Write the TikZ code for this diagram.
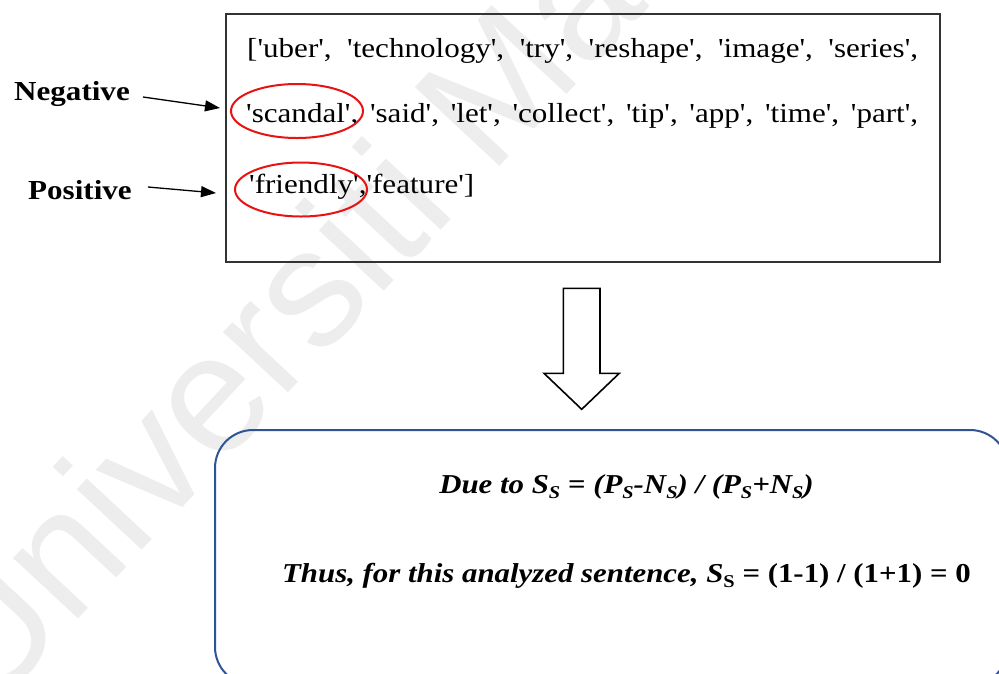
\documentclass[tikz,border=0pt]{standalone}
\usepackage{fontspec}
\newfontfamily\tnr{Liberation Serif}[FakeStretch=1.13]
\newfontfamily\wmfont{Liberation Sans}
\usetikzlibrary{arrows.meta,shapes.geometric}
\definecolor{frameblue}{RGB}{47,84,150}
\definecolor{markred}{RGB}{232,18,18}
\definecolor{wmgray}{RGB}{237,237,237}
\newcommand{\lows}[1]{\raisebox{-0.2em}{\fontsize{18}{18}\selectfont #1}}
\newcommand{\listsize}{\fontsize{27.5}{33}\selectfont}
\newcommand{\formsize}{\fontsize{27.3}{33}\selectfont}

\begin{document}
\begin{tikzpicture}[x=1pt,y=-1pt,font=\tnr,
  listrow/.style={anchor=base west,inner sep=0pt,font=\tnr\listsize},
  sidelabel/.style={anchor=base west,inner sep=0pt,font=\tnr\listsize\bfseries},
  formula/.style={anchor=base,inner sep=0pt,font=\tnr\formsize},
  pointer/.style={-{Triangle[length=15pt,width=11pt]},line width=1.3pt},
  ring/.style={ellipse,draw=markred,line width=2pt,inner sep=0pt,
    minimum width=132pt,minimum height=54pt}]

\useasboundingbox (0,0) rectangle (999,673);
\begin{scope}
\clip (0,0) rectangle (999,673);

% faint watermark behind everything
\node[overlay,anchor=base west,rotate=47,inner sep=0pt,text=wmgray,
  font=\wmfont\fontsize{168}{168}\selectfont] (wm) at (-12,716) {Universiti Malaya};

% word list box
\node[draw=black!80,line width=1.3pt,minimum width=714pt,minimum height=248pt,
  inner sep=0pt] (listbox) at (583,138) {};
\node[listrow] (row1) at (247,57)
  {\makebox[671pt][s]{['uber', 'technology', 'try', 'reshape', 'image', 'series',}};
\node[listrow] (row2) at (246,122)
  {\makebox[672pt][s]{'scandal', 'said', 'let', 'collect', 'tip', 'app', 'time', 'part',}};
\node[listrow] (row3) at (249,193) {'friendly','feature']};

% highlighted sentiment words
\node[ring] (negring) at (297,111) {};
\node[ring] (posring) at (301,189.5) {};

% side labels with pointers
\node[sidelabel] (neg) at (14,100) {Negative};
\node[sidelabel] (pos) at (28,199) {Positive};
\coordinate (negtail) at (143,97);
\coordinate (negtip) at (220,108);
\coordinate (postail) at (148,187);
\coordinate (postip) at (216,193);
\draw[pointer] (negtail) -- (negtip);
\draw[pointer] (postail) -- (postip);

% hollow block arrow
\draw[line width=1.6pt,fill=white,line join=miter]
  (563.3,288.3) -- (600,288.3) -- (600,373.3) -- (619.3,373.3)
  -- (581.7,409.3) -- (544,373.3) -- (563.3,373.3) -- cycle;

% result box, running past the right and bottom edges
\node[overlay,draw=frameblue,line width=2pt,rounded corners=38pt,minimum width=793pt,
  minimum height=255pt,inner sep=0pt] (resbox) at (611.5,557.5) {};
\node[formula] (eq1) at (626.5,493)
  {\textbf{\textit{Due to S\lows{S} }}\textbf{=}\textbf{\textit{ (P\lows{S}-N\lows{S}) / (P\lows{S}+N\lows{S})}}};
\node[formula] (eq2) at (626.5,582)
  {\textbf{\textit{Thus, for this analyzed sentence, S}}\textbf{\lows{S} = (1-1) / (1+1) = 0}};
\end{scope}
\end{tikzpicture}
\end{document}
